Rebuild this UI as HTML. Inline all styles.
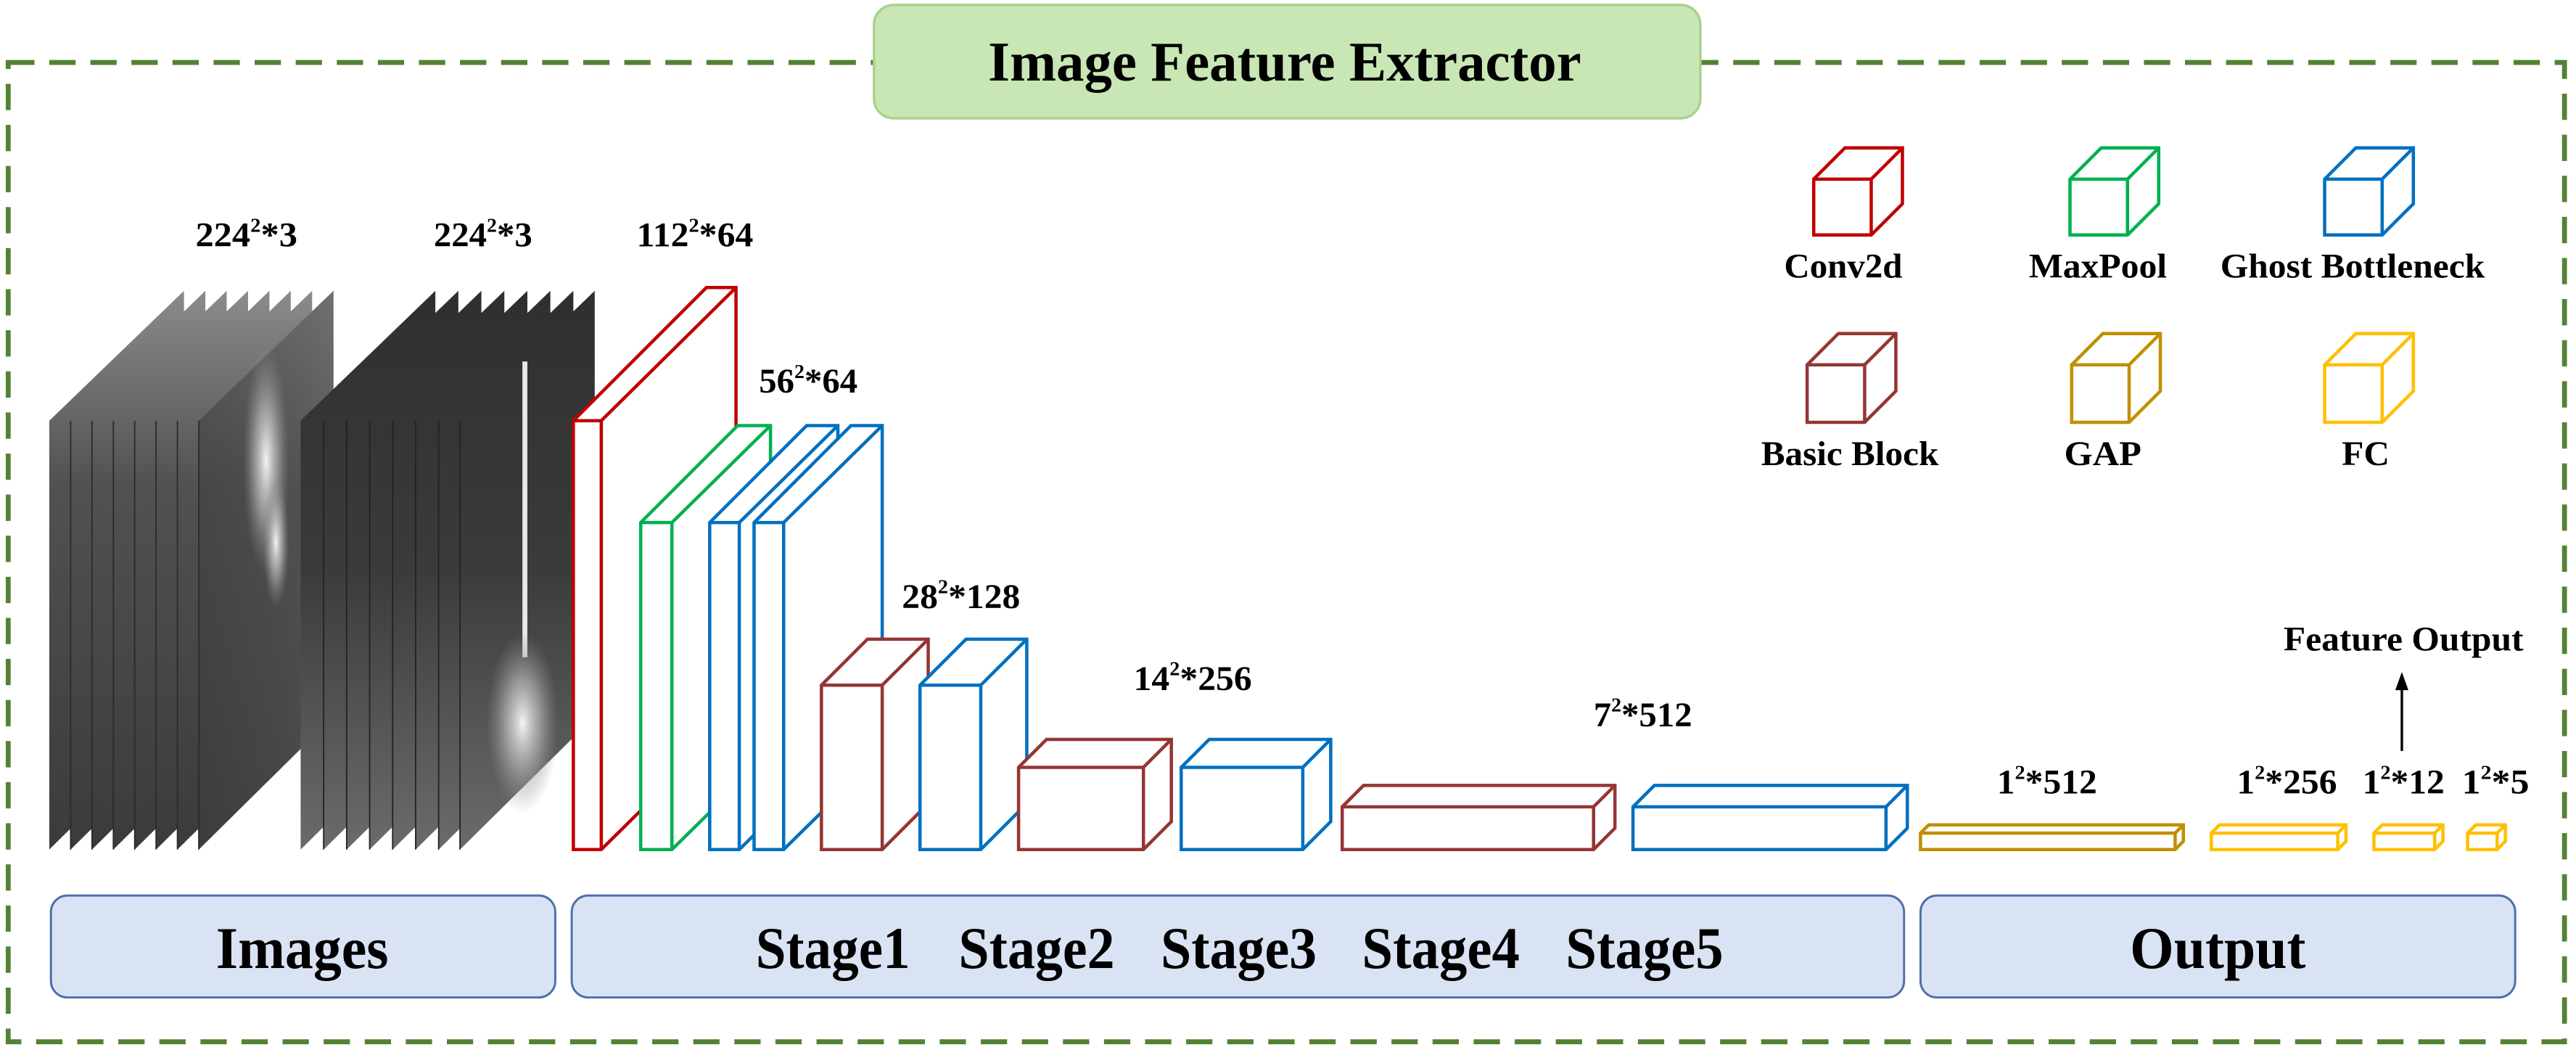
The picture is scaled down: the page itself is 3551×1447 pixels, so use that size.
<!DOCTYPE html>
<html><head><meta charset="utf-8"><style>
html,body{margin:0;padding:0;background:#fff;}
svg{display:block;}
text{font-family:"Liberation Serif","Times New Roman",serif;font-weight:bold;fill:#000;}
</style></head><body>
<svg width="3551" height="1447" viewBox="0 0 1568 639" preserveAspectRatio="none" xmlns="http://www.w3.org/2000/svg">
<defs>
<linearGradient id="g1" x1="0" y1="0" x2="1" y2="0">
<stop offset="0" stop-color="#3c3e3e"/><stop offset="0.6" stop-color="#4a4c4c"/><stop offset="1" stop-color="#5a5c5c"/>
</linearGradient>
<linearGradient id="g1t" x1="0" y1="0" x2="0" y2="1">
<stop offset="0" stop-color="#8a8c8c"/><stop offset="0.35" stop-color="#505252"/><stop offset="1" stop-color="#3a3c3c"/>
</linearGradient>
<linearGradient id="g2" x1="0" y1="0" x2="0" y2="1">
<stop offset="0" stop-color="#2e3030"/><stop offset="0.5" stop-color="#3a3c3c"/><stop offset="1" stop-color="#6a6c6c"/>
</linearGradient>
<radialGradient id="b1" cx="0.5" cy="0.5" r="0.5">
<stop offset="0" stop-color="#f4f4f4"/><stop offset="0.5" stop-color="#b0b0b0" stop-opacity="0.7"/><stop offset="1" stop-color="#888" stop-opacity="0"/>
</radialGradient>
</defs>

<!-- dashed border -->
<rect x="5" y="38" width="1556" height="596" fill="none" stroke="#548235" stroke-width="3" stroke-dasharray="16 9"/>

<!-- title -->
<rect x="532" y="3" width="503" height="69" rx="12" fill="#c9e6b5" stroke="#a9d18e" stroke-width="1.5"/>
<text x="782" y="49" font-size="34" text-anchor="middle" textLength="361" lengthAdjust="spacingAndGlyphs">Image Feature Extractor</text>

<!-- image stack 1 -->
<g>
<polygon points="30,256 112,177 112,436 30,517" fill="url(#g1t)"/>
<polygon points="43,256 125,177 125,436 43,517" fill="url(#g1t)"/>
<polygon points="56,256 138,177 138,436 56,517" fill="url(#g1t)"/>
<polygon points="69,256 151,177 151,436 69,517" fill="url(#g1t)"/>
<polygon points="82,256 164,177 164,436 82,517" fill="url(#g1t)"/>
<polygon points="95,256 177,177 177,436 95,517" fill="url(#g1t)"/>
<polygon points="108,256 190,177 190,436 108,517" fill="url(#g1t)"/>
<polygon points="121,256 203,177 203,436 121,517" fill="url(#g1)"/>
<polygon points="121,256 203,177 203,436 121,517" fill="url(#g1t)" opacity="0.45"/>
<ellipse cx="162" cy="280" rx="14" ry="70" fill="url(#b1)"/>
<ellipse cx="168" cy="330" rx="8" ry="40" fill="url(#b1)"/>
<line x1="43" y1="256" x2="43" y2="517" stroke="#2a2c2c" stroke-width="0.8"/>
<line x1="56" y1="256" x2="56" y2="517" stroke="#2a2c2c" stroke-width="0.8"/>
<line x1="69" y1="256" x2="69" y2="517" stroke="#2a2c2c" stroke-width="0.8"/>
<line x1="82" y1="256" x2="82" y2="517" stroke="#2a2c2c" stroke-width="0.8"/>
<line x1="95" y1="256" x2="95" y2="517" stroke="#2a2c2c" stroke-width="0.8"/>
<line x1="108" y1="256" x2="108" y2="517" stroke="#2a2c2c" stroke-width="0.8"/>
<line x1="121" y1="256" x2="121" y2="517" stroke="#2a2c2c" stroke-width="0.8"/>
</g>
<!-- image stack 2 -->
<g>
<polygon points="183,256 265,177 265,436 183,517" fill="url(#g2)"/>
<polygon points="197,256 279,177 279,436 197,517" fill="url(#g2)"/>
<polygon points="211,256 293,177 293,436 211,517" fill="url(#g2)"/>
<polygon points="225,256 307,177 307,436 225,517" fill="url(#g2)"/>
<polygon points="239,256 321,177 321,436 239,517" fill="url(#g2)"/>
<polygon points="253,256 335,177 335,436 253,517" fill="url(#g2)"/>
<polygon points="267,256 349,177 349,436 267,517" fill="url(#g2)"/>
<polygon points="280,256 362,177 362,436 280,517" fill="url(#g2)"/>
<rect x="318" y="220" width="3" height="180" fill="#e8e8e8"/>
<ellipse cx="318" cy="440" rx="22" ry="55" fill="url(#b1)"/>
<line x1="197" y1="256" x2="197" y2="517" stroke="#222" stroke-width="0.8"/>
<line x1="211" y1="256" x2="211" y2="517" stroke="#222" stroke-width="0.8"/>
<line x1="225" y1="256" x2="225" y2="517" stroke="#222" stroke-width="0.8"/>
<line x1="239" y1="256" x2="239" y2="517" stroke="#222" stroke-width="0.8"/>
<line x1="253" y1="256" x2="253" y2="517" stroke="#222" stroke-width="0.8"/>
<line x1="267" y1="256" x2="267" y2="517" stroke="#222" stroke-width="0.8"/>
<line x1="280" y1="256" x2="280" y2="517" stroke="#222" stroke-width="0.8"/>
</g>

<!-- blocks -->
<g fill="#fff" stroke-width="2" stroke-linejoin="miter">
<!-- red conv: front 349-366, 256-517, d81 -->
<g stroke="#c00000"><polygon points="349,256 430,175 448,175 448,436 366,517 349,517"/><polyline fill="none" points="349,256 366,256 448,175"/><line x1="366" y1="256" x2="366" y2="517"/></g>
<!-- green -->
<g stroke="#00b050"><polygon points="390,318 449,259 469,259 469,458 409,517 390,517"/><polyline fill="none" points="390,318 409,318 469,259"/><line x1="409" y1="318" x2="409" y2="517"/></g>
<!-- blue1 -->
<g stroke="#0070c0"><polygon points="432,318 491,259 510,259 510,458 450,517 432,517"/><polyline fill="none" points="432,318 450,318 510,259"/><line x1="450" y1="318" x2="450" y2="517"/></g>
<!-- blue2 -->
<g stroke="#0070c0"><polygon points="459,318 518,259 537,259 537,458 477,517 459,517"/><polyline fill="none" points="459,318 477,318 537,259"/><line x1="477" y1="318" x2="477" y2="517"/></g>
<!-- brown1 -->
<g stroke="#943634"><polygon points="500,417 528,389 565,389 565,489 537,517 500,517"/><polyline fill="none" points="500,417 537,417 565,389"/><line x1="537" y1="417" x2="537" y2="517"/></g>
<!-- blue s2 -->
<g stroke="#0070c0"><polygon points="560,417 588,389 625,389 625,489 597,517 560,517"/><polyline fill="none" points="560,417 597,417 625,389"/><line x1="597" y1="417" x2="597" y2="517"/></g>
<!-- brown s3 -->
<g stroke="#943634"><polygon points="620,467 637,450 713,450 713,500 696,517 620,517"/><polyline fill="none" points="620,467 696,467 713,450"/><line x1="696" y1="467" x2="696" y2="517"/></g>
<!-- blue s3 -->
<g stroke="#0070c0"><polygon points="719,467 736,450 810,450 810,500 793,517 719,517"/><polyline fill="none" points="719,467 793,467 810,450"/><line x1="793" y1="467" x2="793" y2="517"/></g>
<!-- brown s4 -->
<g stroke="#943634"><polygon points="817,491 830,478 983,478 983,504 970,517 817,517"/><polyline fill="none" points="817,491 970,491 983,478"/><line x1="970" y1="491" x2="970" y2="517"/></g>
<!-- blue s5 -->
<g stroke="#0070c0"><polygon points="994,491 1007,478 1161,478 1161,504 1148,517 994,517"/><polyline fill="none" points="994,491 1148,491 1161,478"/><line x1="1148" y1="491" x2="1148" y2="517"/></g>
<!-- GAP -->
<g stroke="#bf9000"><polygon points="1169,507 1174,502 1329,502 1329,512 1324,517 1169,517"/><polyline fill="none" points="1169,507 1324,507 1329,502"/><line x1="1324" y1="507" x2="1324" y2="517"/></g>
<!-- FC -->
<g stroke="#ffc000"><polygon points="1346,507 1351,502 1428,502 1428,512 1423,517 1346,517"/><polyline fill="none" points="1346,507 1423,507 1428,502"/><line x1="1423" y1="507" x2="1423" y2="517"/></g>
<g stroke="#ffc000"><polygon points="1445,507 1450,502 1487,502 1487,512 1482,517 1445,517"/><polyline fill="none" points="1445,507 1482,507 1487,502"/><line x1="1482" y1="507" x2="1482" y2="517"/></g>
<g stroke="#ffc000"><polygon points="1502,507 1507,502 1525,502 1525,512 1520,517 1502,517"/><polyline fill="none" points="1502,507 1520,507 1525,502"/><line x1="1520" y1="507" x2="1520" y2="517"/></g>

<!-- legend cubes -->
<g stroke="#c00000"><polygon points="1104,109 1123,90 1158,90 1158,124 1139,143 1104,143"/><polyline fill="none" points="1104,109 1139,109 1158,90"/><line x1="1139" y1="109" x2="1139" y2="143"/></g>
<g stroke="#00b050"><polygon points="1260,109 1279,90 1314,90 1314,124 1295,143 1260,143"/><polyline fill="none" points="1260,109 1295,109 1314,90"/><line x1="1295" y1="109" x2="1295" y2="143"/></g>
<g stroke="#0070c0"><polygon points="1415,109 1434,90 1469,90 1469,124 1450,143 1415,143"/><polyline fill="none" points="1415,109 1450,109 1469,90"/><line x1="1450" y1="109" x2="1450" y2="143"/></g>
<g stroke="#943634"><polygon points="1100,222 1119,203 1154,203 1154,238 1135,257 1100,257"/><polyline fill="none" points="1100,222 1135,222 1154,203"/><line x1="1135" y1="222" x2="1135" y2="257"/></g>
<g stroke="#bf9000"><polygon points="1261,222 1280,203 1315,203 1315,238 1296,257 1261,257"/><polyline fill="none" points="1261,222 1296,222 1315,203"/><line x1="1296" y1="222" x2="1296" y2="257"/></g>
<g stroke="#ffc000"><polygon points="1415,222 1434,203 1469,203 1469,238 1450,257 1415,257"/><polyline fill="none" points="1415,222 1450,222 1469,203"/><line x1="1450" y1="222" x2="1450" y2="257"/></g>
</g>

<!-- legend labels -->
<g font-size="21" text-anchor="middle">
<text x="1122" y="169" textLength="72" lengthAdjust="spacingAndGlyphs">Conv2d</text>
<text x="1277" y="169" textLength="84" lengthAdjust="spacingAndGlyphs">MaxPool</text>
<text x="1432" y="169" textLength="161" lengthAdjust="spacingAndGlyphs">Ghost Bottleneck</text>
<text x="1126" y="283" textLength="108" lengthAdjust="spacingAndGlyphs">Basic Block</text>
<text x="1280" y="283" textLength="47" lengthAdjust="spacingAndGlyphs">GAP</text>
<text x="1440" y="283" textLength="29" lengthAdjust="spacingAndGlyphs">FC</text>
<text x="1463" y="396" textLength="146" lengthAdjust="spacingAndGlyphs">Feature Output</text>
</g>

<!-- arrow -->
<line x1="1462" y1="457" x2="1462" y2="418" stroke="#000" stroke-width="1.5"/>
<polygon points="1462,409 1458,420 1466,420" fill="#000"/>

<!-- size labels -->
<g font-size="21" text-anchor="middle">
<text x="150" y="150" textLength="62" lengthAdjust="spacingAndGlyphs">224<tspan font-size="12" dy="-9">2</tspan><tspan dy="9">*3</tspan></text>
<text x="294" y="150" textLength="60" lengthAdjust="spacingAndGlyphs">224<tspan font-size="12" dy="-9">2</tspan><tspan dy="9">*3</tspan></text>
<text x="423" y="150" textLength="71" lengthAdjust="spacingAndGlyphs">112<tspan font-size="12" dy="-9">2</tspan><tspan dy="9">*64</tspan></text>
<text x="492" y="239" textLength="60" lengthAdjust="spacingAndGlyphs">56<tspan font-size="12" dy="-9">2</tspan><tspan dy="9">*64</tspan></text>
<text x="585" y="370" textLength="72" lengthAdjust="spacingAndGlyphs">28<tspan font-size="12" dy="-9">2</tspan><tspan dy="9">*128</tspan></text>
<text x="726" y="420" textLength="72" lengthAdjust="spacingAndGlyphs">14<tspan font-size="12" dy="-9">2</tspan><tspan dy="9">*256</tspan></text>
<text x="1000" y="442" textLength="60" lengthAdjust="spacingAndGlyphs">7<tspan font-size="12" dy="-9">2</tspan><tspan dy="9">*512</tspan></text>
<text x="1246" y="483" textLength="61" lengthAdjust="spacingAndGlyphs">1<tspan font-size="12" dy="-9">2</tspan><tspan dy="9">*512</tspan></text>
<text x="1392" y="483" textLength="61" lengthAdjust="spacingAndGlyphs">1<tspan font-size="12" dy="-9">2</tspan><tspan dy="9">*256</tspan></text>
<text x="1463" y="483" textLength="50" lengthAdjust="spacingAndGlyphs">1<tspan font-size="12" dy="-9">2</tspan><tspan dy="9">*12</tspan></text>
<text x="1519" y="483" textLength="41" lengthAdjust="spacingAndGlyphs">1<tspan font-size="12" dy="-9">2</tspan><tspan dy="9">*5</tspan></text>
</g>

<!-- bottom boxes -->
<rect x="31" y="545" width="307" height="62" rx="10" fill="#dae3f3" stroke="#4f6fac" stroke-width="1.3"/>
<rect x="348" y="545" width="811" height="62" rx="10" fill="#dae3f3" stroke="#4f6fac" stroke-width="1.3"/>
<rect x="1169" y="545" width="362" height="62" rx="10" fill="#dae3f3" stroke="#4f6fac" stroke-width="1.3"/>
<g font-size="36" text-anchor="middle">
<text x="184" y="589" textLength="105" lengthAdjust="spacingAndGlyphs">Images</text>
<text x="507" y="589" textLength="94" lengthAdjust="spacingAndGlyphs">Stage1</text>
<text x="631" y="589" textLength="95" lengthAdjust="spacingAndGlyphs">Stage2</text>
<text x="754" y="589" textLength="95" lengthAdjust="spacingAndGlyphs">Stage3</text>
<text x="877" y="589" textLength="96" lengthAdjust="spacingAndGlyphs">Stage4</text>
<text x="1001" y="589" textLength="96" lengthAdjust="spacingAndGlyphs">Stage5</text>
<text x="1350" y="589" textLength="107" lengthAdjust="spacingAndGlyphs">Output</text>
</g>
</svg>
</body></html>
